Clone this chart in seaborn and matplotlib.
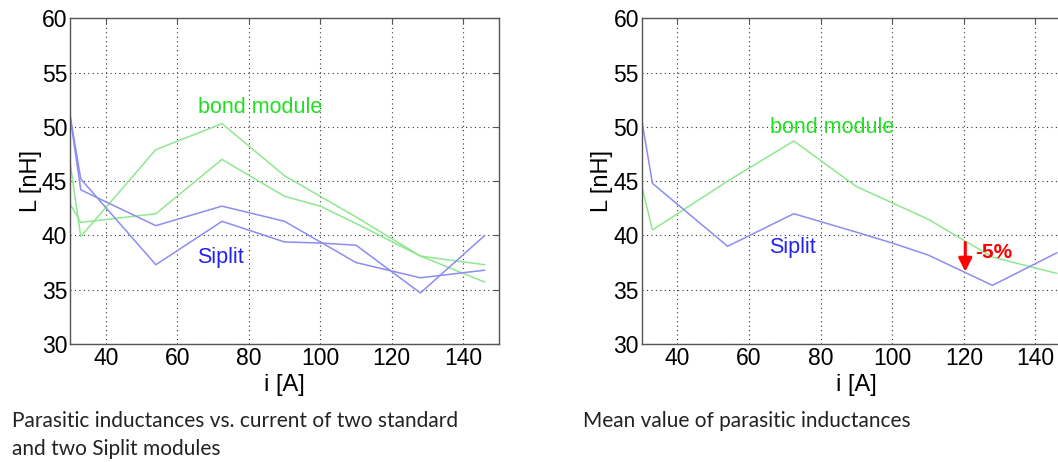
import matplotlib
matplotlib.use("Agg")
import matplotlib.pyplot as plt
import seaborn as sns

# currents [A] where the curves have their vertices
current = [30, 33, 54, 72.5, 90, 100, 110, 128, 146]

# left: two standard (bond) modules and two Siplit modules, L [nH]
bond_1 = [46.7, 39.9, 47.9, 50.3, 45.5, 43.6, 41.7, 38.1, 35.7]
bond_2 = [42.9, 41.2, 42.0, 47.0, 43.6, 42.7, 41.1, 38.1, 37.3]
siplit_1 = [51.1, 45.2, 37.3, 41.3, 39.4, 39.3, 39.1, 34.7, 40.0]
siplit_2 = [51.0, 44.2, 40.9, 42.7, 41.3, 39.4, 37.5, 36.1, 36.8]

# right: mean values
bond_mean = [44.6, 40.5, 45.0, 48.7, 44.5, 43.0, 41.5, 38.0, 36.5]
siplit_mean = [50.7, 44.8, 39.0, 42.0, 40.3, 39.3, 38.2, 35.4, 38.4]

xticks = [40, 60, 80, 100, 120, 140]
yticks = [30, 35, 40, 45, 50, 55, 60]

sns.set_style("white")
plt.rcParams["font.family"] = ["Liberation Sans", "DejaVu Sans"]

green_line = "#8fe88f"
blue_line = "#8c8cf2"
green_txt = "#22dd22"
blue_txt = "#2222ee"

fig = plt.figure(figsize=(10.58, 4.62), dpi=100)
ax1 = fig.add_axes([0.0662, 0.2554, 0.4055, 0.705])
ax2 = fig.add_axes([0.6065, 0.2554, 0.406, 0.705])


def style(ax):
    ax.set_xlim(30, 150)
    ax.set_ylim(30, 60)
    ax.set_xticks(xticks)
    ax.set_yticks(yticks)
    ax.grid(True, linestyle=(0, (1, 3)), color="#333333", linewidth=0.8)
    ax.tick_params(direction="in", length=4, labelsize=16.5, pad=2,
                   top=True, right=True, color="#555555", labelcolor="black")
    for s in ax.spines.values():
        s.set_color("#555555")
        s.set_linewidth(1.0)
    ax.set_xlabel("i [A]", fontsize=17, labelpad=3, color="black")
    ax.set_ylabel("L [nH]", fontsize=17, labelpad=0, color="black")


for ys in [bond_1, bond_2]:
    sns.lineplot(x=current, y=ys, ax=ax1, color=green_line, linewidth=1.1)
for ys in [siplit_1, siplit_2]:
    sns.lineplot(x=current, y=ys, ax=ax1, color=blue_line, linewidth=1.1)
style(ax1)
ax1.text(83.2, 51.8, "bond module", color=green_txt, fontsize=15.5,
         ha="center", va="center")
ax1.text(72, 37.95, "Siplit", color=blue_txt, fontsize=15.5,
         ha="center", va="center")

sns.lineplot(x=current, y=bond_mean, ax=ax2, color=green_line, linewidth=1.1)
sns.lineplot(x=current, y=siplit_mean, ax=ax2, color=blue_line, linewidth=1.1)
style(ax2)
ax2.text(83.2, 49.9, "bond module", color=green_txt, fontsize=15.5,
         ha="center", va="center")
ax2.text(72, 38.9, "Siplit", color=blue_txt, fontsize=15.5,
         ha="center", va="center")
ax2.annotate("", xy=(120.4, 36.4), xytext=(120.4, 39.6),
             arrowprops=dict(arrowstyle="-|>", color="red", lw=2.2,
                             mutation_scale=20))
ax2.text(123.2, 38.4, "-5%", color="red", fontsize=15, fontweight="bold",
         ha="left", va="center")

cap = dict(fontsize=15, family=["Lato", "DejaVu Sans"], color="#222222",
           va="center", ha="left")
fig.text(12 / 1058, 1 - 421 / 462, "Parasitic inductances vs. current of two standard", **cap)
fig.text(12 / 1058, 1 - 449 / 462, "and two Siplit modules", **cap)
fig.text(583 / 1058, 1 - 421 / 462, "Mean value of parasitic inductances", **cap)

fig.savefig("out.png", dpi=100)
